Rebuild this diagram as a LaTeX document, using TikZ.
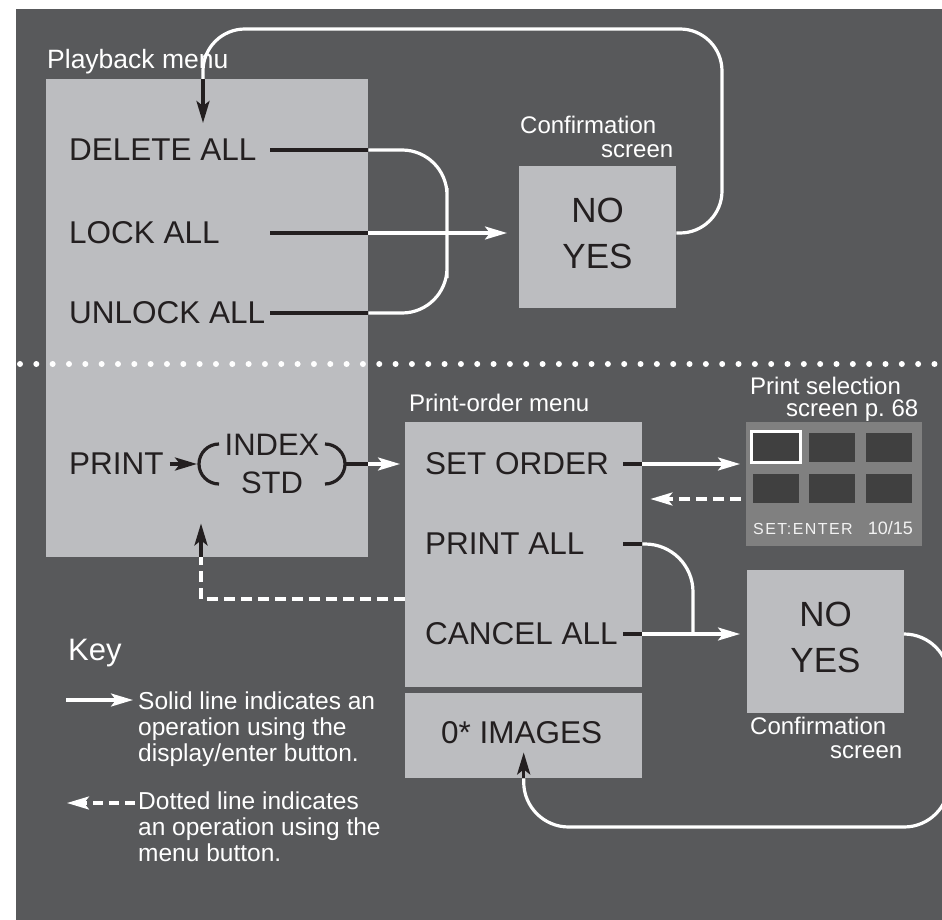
\documentclass[tikz,border=0pt]{standalone}
\usepackage{fontspec}
\setmainfont{Liberation Sans}
\usetikzlibrary{arrows.meta,calc,positioning}

\definecolor{slate}{HTML}{58595B}
\definecolor{pane}{HTML}{BCBDC0}
\definecolor{ink}{HTML}{231F20}
\definecolor{lcdgray}{HTML}{808080}
\definecolor{thumbgray}{HTML}{404040}

\begin{document}
\begin{tikzpicture}[
  x=1pt, y=-1pt,
  panel/.style={fill=pane, inner sep=0pt, anchor=north west},
  lcd/.style={fill=lcdgray, inner sep=0pt, anchor=north west},
  thumb/.style={fill=thumbgray, inner sep=0pt, minimum width=46pt, minimum height=29pt},
  item/.style={text=ink, inner sep=0pt, anchor=west, font=\fontsize{31.5}{36}\selectfont},
  answer/.style={text=ink, inner sep=0pt, align=center, font=\fontsize{35}{46}\selectfont},
  tag/.style={text=white, inner sep=0pt, align=left, font=\fontsize{24}{24}\selectfont},
  note/.style={tag, anchor=north west, font=\fontsize{24.5}{26}\selectfont},
  lcdtext/.style={text=white!90!lcdgray, inner sep=0pt,
    font=\fontsize{16}{16}\selectfont\addfontfeatures{LetterSpace=9}},
  pointed/.style={-{Stealth[length=22pt, width=13pt, inset=5pt]}},
  wire/.style={draw=white, line width=3.2pt},
  stub/.style={draw=ink, line width=3.5pt},
  menuline/.style={wire, dash pattern=on 11pt off 6pt},
  divider/.style={draw=white, line width=6pt, line cap=round,
    dash pattern=on 0pt off 16.33pt}
]
  \useasboundingbox (0,0) rectangle (942,920);
  \fill[white] (0,0) rectangle (942,920);
  \clip (0,0) rectangle (942,920);
  \fill[slate] (16,9) rectangle (942,920);

  % playback menu
  \node[panel, minimum width=322pt, minimum height=478pt] (playback) at (46,79) {};
  \node[tag, anchor=base west, font=\fontsize{26.5}{26.5}\selectfont] (playbacktag)
    at (47,69) {Playback menu};
  \node[item] (delete) at (69,150) {DELETE ALL};
  \node[item] (lock) at (69,233) {LOCK ALL};
  \node[item] (unlock) at (69,313) {UNLOCK ALL};
  \coordinate (stubx) at (270,0);
  \coordinate (bend) at (447,233);
  \coordinate (entry) at (203,79);
  \coordinate (looptop) at (722,29);

  \node[panel, minimum width=157pt, minimum height=142pt] (confirm1) at (519,166) {};
  \node[answer] (answer1) at (597.5,233) {NO\\YES};
  \node[tag, anchor=north west] (confirm1tag) at (520,115.5)
    {Confirmation\\\hspace*{81pt}screen};

  \draw[stub] (stubx |- delete) -- (playback.east |- delete);
  \draw[stub] (stubx |- lock) -- (playback.east |- lock);
  \draw[stub] (stubx |- unlock) -- (playback.east |- unlock);
  \draw[wire, rounded corners=45pt] (playback.east |- delete) -| (bend)
    |- (playback.east |- unlock);
  \draw[wire, pointed, shorten >=12pt] (playback.east |- lock) -- (confirm1.west |- lock);
  \draw[wire, rounded corners=42pt] (confirm1.east |- lock) -| (looptop) -| (entry);
  \draw[stub, pointed] (entry) -- ([yshift=-44pt]entry);

  % border between the two menus
  \draw[divider] (20,364) -- (942,364);

  % print order
  \node[item] (print) at (69,464) {PRINT};
  \node[answer, font=\fontsize{31}{38}\selectfont] (choice) at (272,464) {INDEX\\STD};
  \coordinate (lparen) at (200,464);
  \coordinate (rparen) at (345,464);
  \draw[stub, pointed, shorten >=3pt] ([xshift=6pt]print.east) -- (lparen);
  \draw[stub, line width=3.2pt] (219,444) arc[start angle=90, end angle=270, radius=20pt];
  \draw[stub, line width=3.2pt] (325,444) arc[start angle=90, end angle=-90, radius=20pt];

  \node[panel, minimum width=237pt, minimum height=265pt] (order) at (405,422) {};
  \node[tag, anchor=base west] (ordertag) at (409,411) {Print-order menu};
  \node[item] (setorder) at (425,464) {SET ORDER};
  \node[item] (printall) at (425,544) {PRINT ALL};
  \node[item] (cancelall) at (425,634) {CANCEL ALL};
  \coordinate (stubx2) at (623,0);

  \node[panel, minimum width=237pt, minimum height=85pt] (images) at (405,693) {};
  \node[item, anchor=base west] (imagecount) at (441,743) {0* IMAGES};

  \draw[stub] (rparen) -- (playback.east |- rparen);
  \draw[wire, pointed, shorten >=5pt] (playback.east |- rparen) -- (order.west |- rparen);

  % print selection screen
  \node[lcd, minimum width=176pt, minimum height=124pt] (select) at (746,422) {};
  \node[tag, anchor=north west, font=\fontsize{24}{22}\selectfont] (selecttag)
    at (750,376.5) {Print selection\\\hspace*{36pt}screen p.~68};
  \node[thumb, draw=white, line width=3pt, minimum width=49pt, minimum height=31pt]
    (thumb1) at (776,447) {};
  \node[thumb] (thumb2) at (832,447.5) {};
  \node[thumb] (thumb3) at (889,447.5) {};
  \node[thumb] (thumb4) at (776,488.5) {};
  \node[thumb] (thumb5) at (832,488.5) {};
  \node[thumb] (thumb6) at (889,488.5) {};
  \node[lcdtext, anchor=base west] (setenter) at (753,534) {SET:ENTER};
  \node[lcdtext, anchor=base east, font=\fontsize{18}{18}\selectfont] (frame)
    at (913,534) {10/15};

  \node[panel, minimum width=157pt, minimum height=143pt] (confirm2) at (747,570) {};
  \node[answer] (answer2) at (825.5,637) {NO\\YES};
  \node[tag, anchor=north west] (confirm2tag) at (750,716.5)
    {Confirmation\\\hspace*{80pt}screen};

  \draw[stub] (stubx2 |- setorder) -- (order.east |- setorder);
  \draw[stub] (stubx2 |- printall) -- (order.east |- printall);
  \draw[stub] (stubx2 |- cancelall) -- (order.east |- cancelall);
  \draw[wire, pointed, shorten >=6pt] (order.east |- setorder) -- (select.west |- setorder);
  \coordinate (backy) at (0,499);
  \draw[menuline, pointed, shorten <=5pt, shorten >=8pt] (select.west |- backy)
    -- (order.east |- backy);
  \coordinate (merge) at (693,634);
  \draw[wire, rounded corners=48pt] (order.east |- printall) -| (merge);
  \draw[wire, pointed, shorten >=7pt] (order.east |- cancelall) -- (confirm2.west |- cancelall);
  \coordinate (loopcorner) at (949,827);
  \draw[wire, rounded corners=45pt] (confirm2.east |- cancelall) -| (loopcorner)
    -| (images.south);
  \draw[stub, pointed] (images.south) -- ([yshift=26pt]images.south);

  \coordinate (backx) at (201,599);
  \coordinate (backup) at (playback.south -| backx);
  \draw[menuline] (order.west |- backx) -| (backup);
  \draw[stub, pointed] (backup) -- ([yshift=34pt]backup);

  % key
  \node[tag, anchor=base west, font=\fontsize{31}{31}\selectfont] (key) at (68,660) {Key};
  \node[note] (keysolid) at (138,692)
    {Solid line indicates an\\operation using the\\display/enter button.};
  \node[note] (keymenu) at (138,792)
    {Dotted line indicates\\an operation using the\\menu button.};
  \coordinate (solidend) at (66,700);
  \coordinate (menuend) at (67,803);
  \draw[wire, pointed, shorten >=5pt] (solidend) -- (keysolid.west |- solidend);
  \draw[menuline, pointed, dash pattern=on 10pt off 6pt, shorten <=3pt]
    (keymenu.west |- menuend) -- (menuend);
\end{tikzpicture}
\end{document}
